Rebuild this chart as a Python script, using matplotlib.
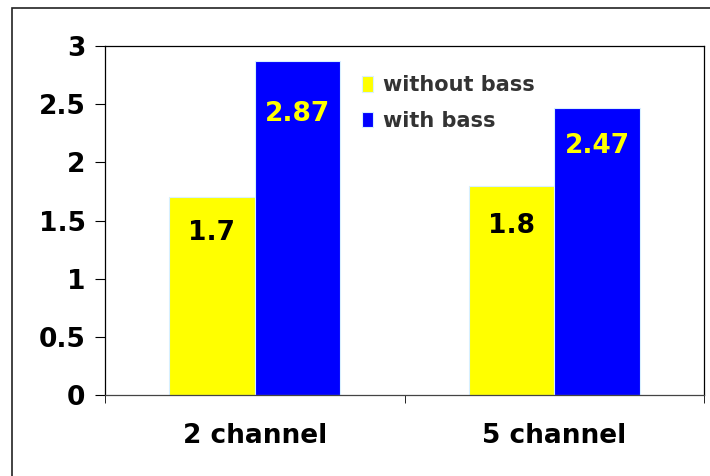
import numpy as np
import matplotlib
matplotlib.use("Agg")
import matplotlib.pyplot as plt
from matplotlib.patches import Rectangle

categories = ["2 channel", "5 channel"]
without_bass = [1.7, 1.8]
with_bass = [2.87, 2.47]
series_names = ["without bass", "with bass"]
colors = ["#ffff00", "#0000ff"]
label_colors = ["black", "#ffff00"]

fig = plt.figure(figsize=(7.1, 4.76), dpi=100)
ax = fig.add_axes([105 / 710, 1 - 395 / 476, (704 - 105) / 710, (395 - 46) / 476])

x = np.arange(len(categories))
w = 0.286
bars1 = ax.bar(x - w / 2, without_bass, w, color=colors[0], edgecolor="#d8f0ff",
               linewidth=0.8, label=series_names[0])
bars2 = ax.bar(x + w / 2, with_bass, w, color=colors[1], edgecolor="#d8f0ff",
               linewidth=0.8, label=series_names[1])

# value labels sit inside the bars, a bit below the top
for bars, vals, col, offs in [(bars1, without_bass, label_colors[0], [-36, -40]),
                              (bars2, with_bass, label_colors[1], [-53, -38])]:
    for b, v, o in zip(bars, vals, offs):
        ax.annotate(f"{v:g}", (b.get_x() + b.get_width() / 2, v),
                    xytext=(0, o * 0.72), textcoords="offset points",
                    ha="center", va="center", fontsize=19, fontweight="bold",
                    color=col)

ax.set_xlim(-0.5, 1.5)
ax.set_ylim(0, 3)
ax.set_yticks([0, 0.5, 1, 1.5, 2, 2.5, 3])
ax.set_yticklabels(["0", "0.5", "1", "1.5", "2", "2.5", "3"])
ax.set_xticks(x)
ax.set_xticklabels(categories)
ax.set_xticks([-0.5, 0.5, 1.5], minor=True)
ax.tick_params(axis="x", which="major", length=0, pad=20, labelsize=19)
ax.tick_params(axis="x", which="minor", length=6, direction="out", color="black")
ax.tick_params(axis="y", length=7, direction="out", labelsize=19, pad=7)
for lab in ax.get_xticklabels() + ax.get_yticklabels():
    lab.set_fontweight("bold")
for s in ax.spines.values():
    s.set_linewidth(0.9)
ax.spines["bottom"].set_color("#444444")

leg = ax.legend(loc="upper left", bbox_to_anchor=(0.415, 0.94), frameon=False,
                handlelength=0.55, handleheight=0.75, handletextpad=0.45,
                labelspacing=0.75, fontsize=15, borderaxespad=0)
for t in leg.get_texts():
    t.set_fontweight("bold")
    t.set_color("#333333")

# outer chart frame
fig.add_artist(Rectangle((12 / 710, -0.1), 1.1, 1 - 8 / 476 + 0.1,
                         transform=fig.transFigure, fill=False,
                         edgecolor="#222222", linewidth=1.2))

fig.savefig("out.png", dpi=100)
